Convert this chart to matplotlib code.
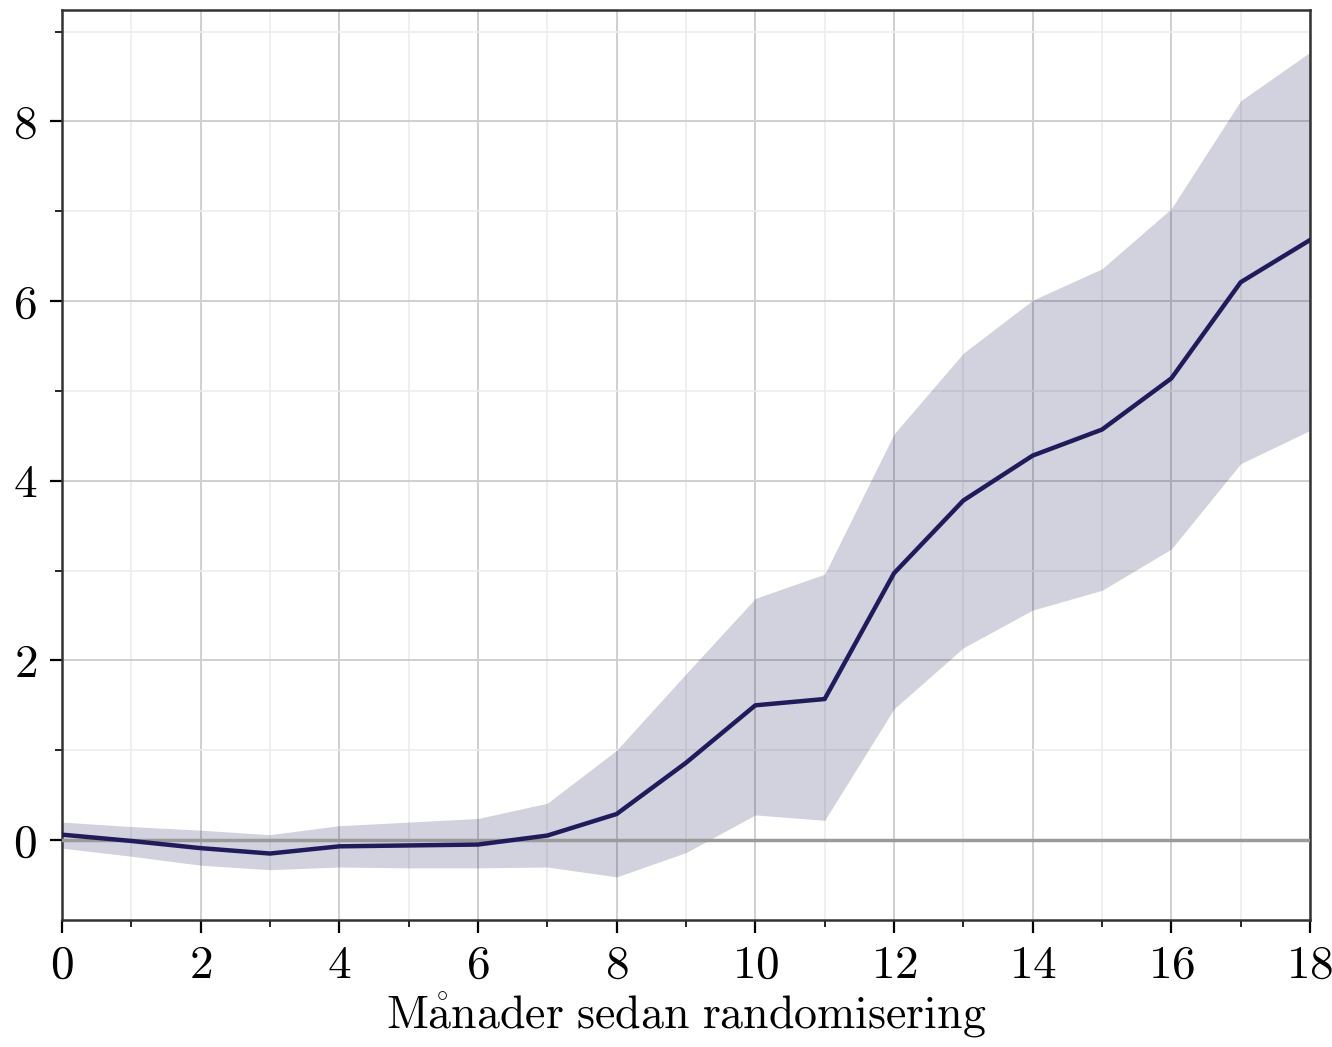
import matplotlib
matplotlib.use("Agg")
import matplotlib.pyplot as plt
from matplotlib.ticker import MultipleLocator
import numpy as np

plt.rcParams['font.family'] = 'serif'
plt.rcParams['font.serif'] = ['cmr10', 'DejaVu Serif']
plt.rcParams['mathtext.fontset'] = 'cm'
plt.rcParams['axes.formatter.use_mathtext'] = True

# månader sedan randomisering
months = np.arange(0, 19)
mean = [0.06, -0.01, -0.09, -0.15, -0.07, -0.06, -0.05, 0.05, 0.29, 0.86,
        1.50, 1.57, 2.97, 3.78, 4.28, 4.57, 5.14, 6.21, 6.68]
upper = [0.20, 0.15, 0.11, 0.06, 0.16, 0.20, 0.24, 0.41, 1.00, 1.85,
         2.69, 2.96, 4.52, 5.42, 6.01, 6.36, 7.03, 8.23, 8.77]
lower = [-0.09, -0.18, -0.28, -0.33, -0.30, -0.31, -0.31, -0.30, -0.41, -0.14,
         0.28, 0.22, 1.46, 2.14, 2.56, 2.78, 3.24, 4.19, 4.56]

navy = '#201c5c'

fig = plt.figure(figsize=(13.32, 10.47), dpi=100)
ax = fig.add_axes([0.0465, 0.1213, 0.937, 0.8691])

ax.fill_between(months, lower, upper, color=navy, alpha=0.2, linewidth=0, zorder=2)
ax.axhline(0, color='#9a9a9a', linewidth=2.5, zorder=3)
ax.plot(months, mean, color=navy, linewidth=3.2, zorder=4)

ax.set_xlim(0, 18)
ax.set_ylim(-0.89, 9.24)
ax.xaxis.set_major_locator(MultipleLocator(2))
ax.xaxis.set_minor_locator(MultipleLocator(1))
ax.yaxis.set_major_locator(MultipleLocator(2))
ax.yaxis.set_minor_locator(MultipleLocator(1))

ax.grid(which='major', color='#cfcfcf', linewidth=1.4, zorder=0)
ax.grid(which='minor', color='#ececec', linewidth=1.2, zorder=0)
ax.set_axisbelow(True)

ax.tick_params(which='major', length=9, width=1.6, labelsize=34, pad=9)
ax.tick_params(which='minor', length=5, width=1.2)
for s in ax.spines.values():
    s.set_linewidth(1.8)
    s.set_color('#333333')

ax.set_xlabel(r'$\mathrm{M\mathring{a}nader\ sedan\ randomisering}$', fontsize=33, labelpad=3)

fig.savefig('out.png', dpi=100)
